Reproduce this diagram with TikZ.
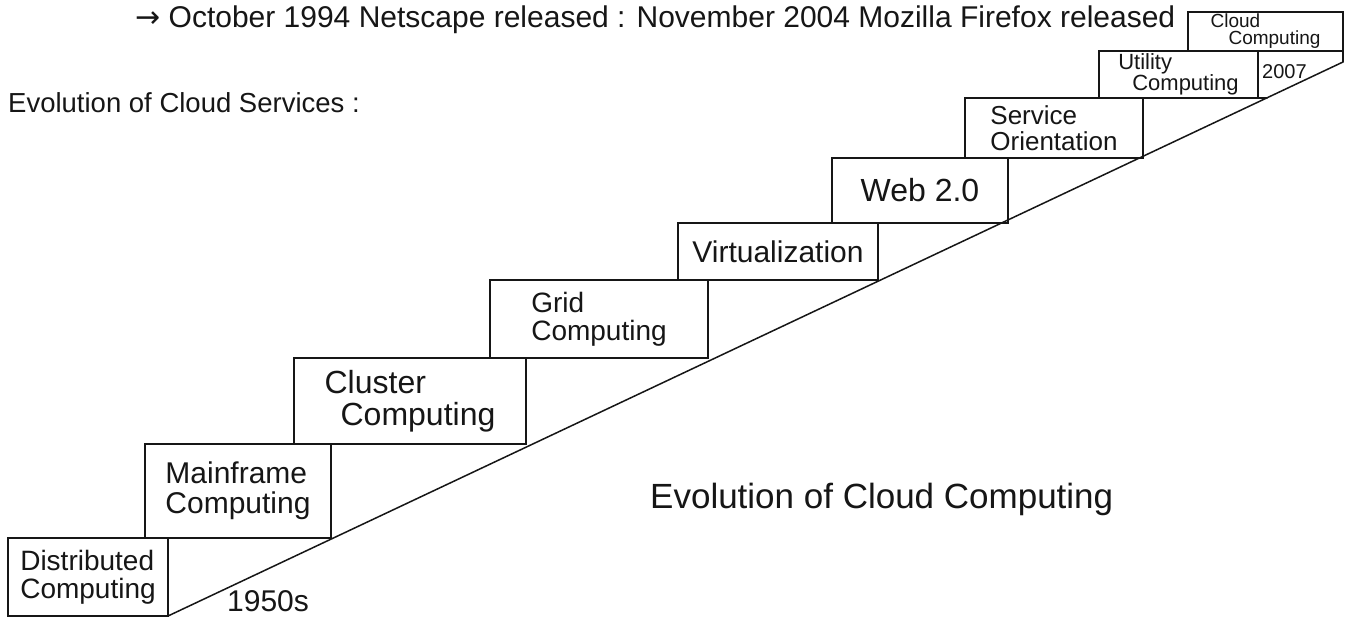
\documentclass[tikz,border=0pt]{standalone}
\usepackage{fontspec}
\setmainfont{Liberation Sans}
\newfontfamily\arrowfont{DejaVu Sans}
\definecolor{ink}{HTML}{161616}
\tikzset{
  stepbox/.style={draw=ink, line width=1.5pt, rectangle, inner sep=0pt, outer sep=0pt,
    anchor=north west, align=left, text=ink},
  stair/.style={draw=ink, line width=1.5pt, line cap=round},
  hand/.style={text=ink, inner sep=0pt, anchor=base west},
  fs/.style={font=\fontsize{#1}{#1}\selectfont},
  fsb/.style 2 args={font=\fontsize{#1}{#2}\selectfont}
}
\begin{document}
\begin{tikzpicture}[x=1pt,y=-1pt]
\useasboundingbox[fill=white] (0,0) rectangle (1357,620);

% headings
\node[hand, fs=30] (top line) at (135,28) {{\arrowfont →} October 1994 Netscape released : November 2004 Mozilla Firefox released};
\node[hand, fs=27.5] (heading) at (8,113) {Evolution of Cloud Services :};

% staircase boxes
\node[stepbox, minimum width=160pt, minimum height=78pt, fs=28] (b1) at (8,538) {Distributed\\Computing};
\node[stepbox, minimum width=186pt, minimum height=94pt, fs=30] (b2) at (145,444) {Mainframe\\Computing};
\node[stepbox, minimum width=232pt, minimum height=86pt, fs=32] (b3) at (294,358) {Cluster\\\hspace*{16pt}Computing};
\node[stepbox, minimum width=218pt, minimum height=78pt, fs=28] (b4) at (490,280) {Grid\\Computing};
\node[stepbox, minimum width=200pt, minimum height=57pt, fs=30] (b5) at (678,223) {Virtualization};
\node[stepbox, minimum width=176pt, minimum height=65pt, fs=32] (b6) at (832,158) {Web 2.0};
\node[stepbox, minimum width=178pt, minimum height=60pt, fs=26] (b7) at (965,98) {Service\\Orientation};
\node[stepbox, minimum width=159pt, minimum height=47pt, fsb={22}{20}] (b8) at (1099,51) {Utility\\\hspace*{14pt}Computing};
\node[stepbox, minimum width=155pt, minimum height=39pt, fsb={19}{17}] (b9) at (1188,12) {Cloud\\\hspace*{18pt}Computing};

% slope of the stairs
\coordinate (slope top) at (1343,62);
\coordinate (ledge) at (1267,98);
\draw[stair] (b1.south east) -- (slope top);
\draw[stair] (b9.south east) -- (slope top);
\draw[stair] (b8.south east) -- (ledge);

% year labels
\node[hand, fs=20] (y2007) at (1262,79) {2007};
\node[hand, fs=30] (y1950) at (227,611) {1950s};

% caption
\node[hand, fs=35] (caption) at (650,508) {Evolution of Cloud Computing};
\end{tikzpicture}
\end{document}
